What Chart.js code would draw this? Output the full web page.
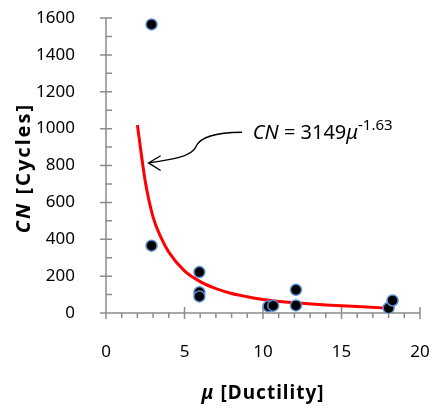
<!DOCTYPE html>
<html>
<head>
<meta charset="utf-8">
<script src="https://cdn.jsdelivr.net/npm/chart.js@4"></script>
<style>
  html, body { margin: 0; padding: 0; background: #fff; }
  #wrap { width: 436px; height: 412px; }
</style>
</head>
<body>
<div id="wrap"><canvas id="cnChart" width="436" height="412"></canvas></div>
<script>
// test points (ductility vs cycles)
const pointMu = [2.9, 2.9, 5.95, 5.95, 5.95, 10.35, 10.65, 12.1, 12.1, 18.0, 18.25];
const pointCN = [1565, 365, 222, 112, 90, 36, 40, 126, 41, 27, 68];

// fitted curve
const fitMu = [2, 2.5, 3, 3.5, 4, 5, 6, 7, 8, 9, 10, 12, 14, 16, 18];
const fitCN = [1020, 715, 520, 410, 330, 228, 170, 132, 106, 88, 73, 55, 44, 35, 26];

const xTicks = [0, 5, 10, 15, 20];
const yTicks = [0, 200, 400, 600, 800, 1000, 1200, 1400, 1600];

const FONT = '"Noto Sans", sans-serif';
const AXIS_COL = '#8c8c8c';

// arrow from the equation label to the curve (data units)
const arrowPath = [[8.66, 980], [6.94, 978], [5.99, 956], [5.73, 902], [5.48, 848], [4.08, 831], [2.71, 814]];
const arrowHead = [[3.48, 853], [2.71, 814], [3.48, 773]];
const labelAt = [9.35, 945];

const axesPlugin = {
  id: 'axes',
  beforeDatasetsDraw(chart) {
    const { ctx, scales: { x, y } } = chart;
    const x0 = x.getPixelForValue(0), y0 = y.getPixelForValue(0);
    ctx.save();
    ctx.strokeStyle = AXIS_COL;
    ctx.lineWidth = 1.5;
    ctx.beginPath();
    ctx.moveTo(x0, y.getPixelForValue(1600)); ctx.lineTo(x0, y0);
    ctx.lineTo(x.getPixelForValue(20), y0);
    // x ticks: major cross, minor outside
    for (let v = 0; v <= 20; v++) {
      const px = x.getPixelForValue(v);
      if (v % 5 === 0) { ctx.moveTo(px, y0 - 6); ctx.lineTo(px, y0 + 6); }
      else { ctx.moveTo(px, y0); ctx.lineTo(px, y0 + 5); }
    }
    // y ticks: major cross, minor inside
    for (let v = 0; v <= 1600; v += 100) {
      const py = y.getPixelForValue(v);
      if (v % 200 === 0) { ctx.moveTo(x0 - 6, py); ctx.lineTo(x0 + 6, py); }
      else { ctx.moveTo(x0, py); ctx.lineTo(x0 + 6, py); }
    }
    ctx.stroke();
    ctx.restore();
  },
  afterDatasetsDraw(chart) {
    const { ctx, scales: { x, y } } = chart;
    const P = p => [x.getPixelForValue(p[0]), y.getPixelForValue(p[1])];
    ctx.save();

    // arrow
    ctx.strokeStyle = '#000';
    ctx.lineWidth = 1.4;
    ctx.beginPath();
    const a = arrowPath.map(P);
    ctx.moveTo(...a[0]);
    ctx.bezierCurveTo(...a[1], ...a[2], ...a[3]);
    ctx.bezierCurveTo(...a[4], ...a[5], ...a[6]);
    const h = arrowHead.map(P);
    ctx.moveTo(...h[0]); ctx.lineTo(...h[1]); ctx.lineTo(...h[2]);
    ctx.stroke();

    // equation label
    let [lx, ly] = P(labelAt);
    ctx.fillStyle = '#000';
    ctx.textBaseline = 'alphabetic';
    ctx.textAlign = 'left';
    const parts = [
      ['italic 20px ' + FONT, 'CN', 0],
      ['20px ' + FONT, ' = 3149', 0],
      ['italic 20px ' + FONT, 'μ', 0],
      ['15px ' + FONT, '-1.63', -9]
    ];
    parts.forEach(([f, t, dy]) => {
      ctx.font = f;
      ctx.fillText(t, lx, ly + dy);
      lx += ctx.measureText(t).width;
    });

    // axis titles
    ctx.letterSpacing = '1px';
    const xt = [['bold italic 19px ' + FONT, 'μ'], ['bold 19px ' + FONT, ' [Ductility]']];
    const yt = [['bold italic 20px ' + FONT, 'CN'], ['bold 20px ' + FONT, ' [Cycles]']];
    const widthOf = arr => arr.reduce((s, [f, t]) => { ctx.font = f; return s + ctx.measureText(t).width; }, 0);

    let w = widthOf(xt), cx = x.getPixelForValue(10) - w / 2;
    xt.forEach(([f, t]) => { ctx.font = f; ctx.fillText(t, cx, 399); cx += ctx.measureText(t).width; });

    ctx.letterSpacing = '2px';
    ctx.translate(30, 168);
    ctx.rotate(-Math.PI / 2);
    w = widthOf(yt); cx = -w / 2;
    yt.forEach(([f, t]) => { ctx.font = f; ctx.fillText(t, cx, 0); cx += ctx.measureText(t).width; });
    ctx.restore();
  }
};

new Chart(document.getElementById('cnChart'), {
  type: 'scatter',
  data: {
    datasets: [
      {
        type: 'line',
        data: fitMu.map((m, i) => ({ x: m, y: fitCN[i] })),
        borderColor: '#ff0000', borderWidth: 3, pointRadius: 0,
        cubicInterpolationMode: 'monotone', fill: false, order: 2
      },
      {
        data: pointMu.map((m, i) => ({ x: m, y: pointCN[i] })),
        backgroundColor: '#000', borderColor: '#5b8fd4', borderWidth: 1.5,
        pointRadius: 5.5, order: 1
      }
    ]
  },
  options: {
    responsive: false, animation: false,
    layout: { padding: { top: 18, right: 16, left: 0, bottom: 0 } },
    plugins: { legend: { display: false }, tooltip: { enabled: false } },
    scales: {
      x: {
        type: 'linear', min: 0, max: 20,
        afterBuildTicks: s => { s.ticks = xTicks.map(v => ({ value: v })); },
        afterFit: s => { s.height = 99; s.paddingLeft = 0; s.paddingRight = 0; },
        grid: { display: false }, border: { display: false },
        ticks: { padding: 21, color: '#000', font: { family: FONT, size: 17 }, maxRotation: 0, callback: v => String(v) }
      },
      y: {
        type: 'linear', min: 0, max: 1600,
        afterBuildTicks: s => { s.ticks = yTicks.map(v => ({ value: v })); },
        afterFit: s => { s.width = 106; s.paddingTop = 0; s.paddingBottom = 0; },
        grid: { display: false }, border: { display: false },
        ticks: { padding: 23, color: '#000', font: { family: FONT, size: 17 }, callback: v => String(v) }
      }
    }
  },
  plugins: [axesPlugin]
});
</script>
</body>
</html>
